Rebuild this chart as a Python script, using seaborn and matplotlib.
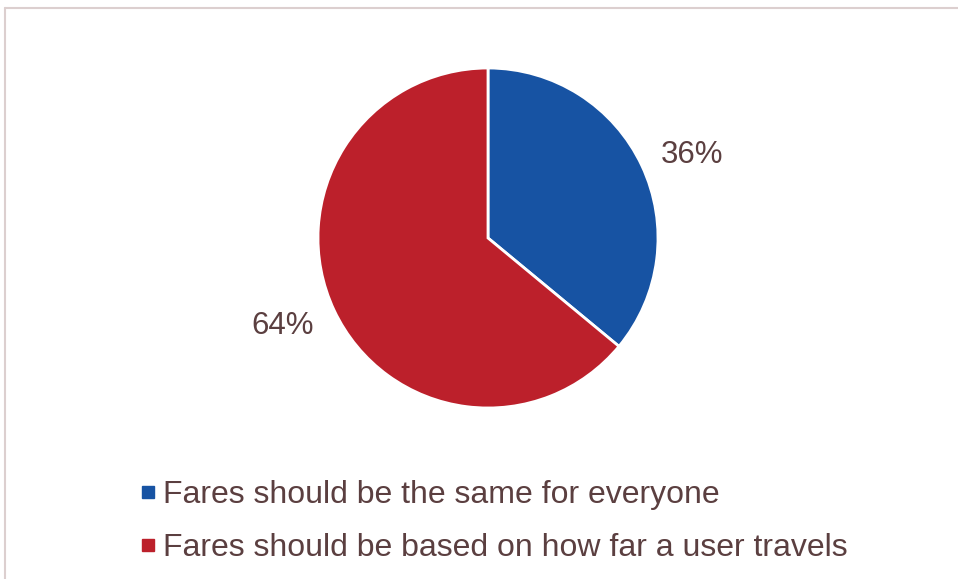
import matplotlib
matplotlib.use("Agg")
import matplotlib.pyplot as plt
from matplotlib.lines import Line2D
import seaborn as sns

sns.set_theme(style="white")
plt.rcParams["font.family"] = ["Liberation Sans", "DejaVu Sans"]

categories = ["Fares should be the same for everyone",
              "Fares should be based on how far a user travels"]
shares = [36, 64]
pct_labels = ["36%", "64%"]
colors = ["#1753a3", "#bc202b"]
text_color = "#5b3f40"

W, H = 958, 579
fig = plt.figure(figsize=(W / 100, H / 100), dpi=100)

# pie axes: centre (488, 238) px, radius 170 px
cx, cy, r = 488, 238, 170
ax = fig.add_axes([(cx - r) / W, 1 - (cy + r) / H, 2 * r / W, 2 * r / H])
wedges, texts = ax.pie(shares, colors=colors, startangle=90, counterclock=False,
                       labels=pct_labels, labeldistance=1.3,
                       wedgeprops=dict(edgecolor="white", linewidth=2),
                       textprops=dict(color=text_color, fontsize=22.5))
ax.set_xlim(-1, 1)
ax.set_ylim(-1, 1)
ax.set_aspect("equal")
ax.axis("off")
# percentage labels placed just outside their wedges
label_pos = [(1.20, 0.49), (-1.21, -0.52)]
for t, p in zip(texts, label_pos):
    t.set_position(p)
    t.set_ha("center")
    t.set_va("center")

# legend
handles = [Line2D([0], [0], marker="s", linestyle="none", markersize=8,
                  markerfacecolor=c, markeredgecolor=c) for c in colors]
leg = fig.legend(handles, categories, loc="upper left",
                 bbox_to_anchor=(127 / W, 1 - 467 / H), frameon=False,
                 fontsize=23, labelcolor=text_color, handlelength=0.5,
                 handletextpad=0.22, labelspacing=0.72, borderaxespad=0)

# outer frame (top and left edges visible)
frame_color = "#dccfcf"
fig.add_artist(Line2D([4.5 / W, 1.0], [1 - 7.5 / H, 1 - 7.5 / H],
                      transform=fig.transFigure, color=frame_color, lw=1.5))
fig.add_artist(Line2D([4.5 / W, 4.5 / W], [0.0, 1 - 7.5 / H],
                      transform=fig.transFigure, color=frame_color, lw=1.5))

fig.savefig("out.png", dpi=100, facecolor="white")
